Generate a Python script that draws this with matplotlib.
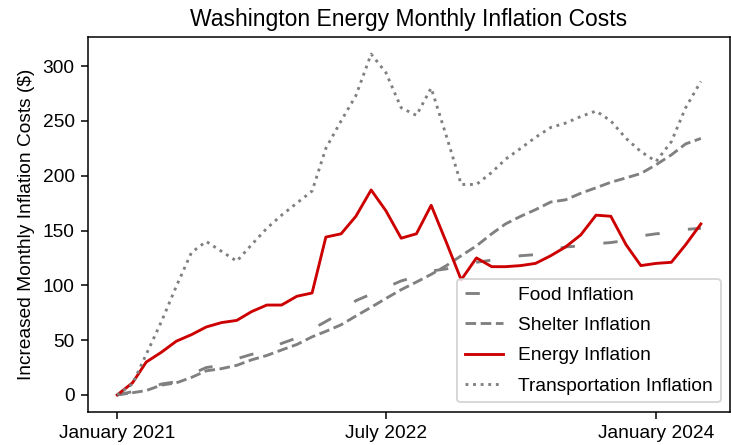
import numpy as np
import pandas as pd
import matplotlib
matplotlib.use('Agg')
import matplotlib.pyplot as plt

plt.rcParams['font.family'] = ['Liberation Sans', 'DejaVu Sans']

# monthly values, Jan 2021 - Apr 2024
months = pd.date_range('2021-01-01', periods=40, freq='MS')

food = [0, 3, 5, 10, 12, 19, 25, 27, 33, 37, 40, 47, 52, 60, 67, 75, 86, 92, 98, 104,
        108, 113, 115, 118, 121, 123, 125, 127, 128, 132, 135, 136, 138, 139, 141, 145,
        147, 148, 151, 152]
shelter = [0, 2, 4, 9, 11, 16, 22, 24, 27, 32, 36, 41, 46, 53, 58, 64, 72, 80, 88, 96,
           103, 110, 118, 127, 136, 147, 156, 163, 169, 176, 178, 184, 189, 194, 198, 202,
           210, 219, 229, 234]
energy = [0, 11, 30, 39, 49, 55, 62, 66, 68, 76, 82, 82, 90, 93, 144, 147, 163, 187, 168, 143,
          147, 173, 139, 105, 125, 117, 117, 118, 120, 127, 135, 146, 164, 163, 137, 118,
          120, 121, 137, 156]
transport = [0, 10, 37, 67, 99, 130, 140, 131, 122, 137, 152, 164, 175, 186, 225, 250, 273, 311,
             294, 262, 255, 280, 236, 192, 192, 203, 215, 225, 235, 244, 248, 254, 259, 250,
             234, 222, 213, 231, 262, 286]

tick_dates = pd.to_datetime(['2021-01-01', '2022-07-01', '2024-01-01'])

fig = plt.figure(figsize=(731 / 137.5, 445 / 137.5), dpi=137.5)
ax = fig.add_axes([0.1204, 0.0742, 0.8783, 0.8427])

ax.plot(months, food, color='gray', linestyle=(0, (5, 10)), label='Food Inflation')
ax.plot(months, shelter, color='gray', linestyle='--', label='Shelter Inflation')
ax.plot(months, energy, color='#cc0000', label='Energy Inflation')
ax.plot(months, transport, color='gray', linestyle=':', label='Transportation Inflation')

ax.set_xticks(tick_dates)
ax.set_xticklabels([d.strftime('%B %Y') for d in tick_dates])
ax.set_yticks(np.arange(0, 301, 50))
ax.set_ylabel('Increased Monthly Inflation Costs ($)')
ax.set_title('Washington Energy Monthly Inflation Costs')
ax.legend(loc='lower right', labelspacing=0.68)

fig.savefig('out.png', dpi=137.5)
